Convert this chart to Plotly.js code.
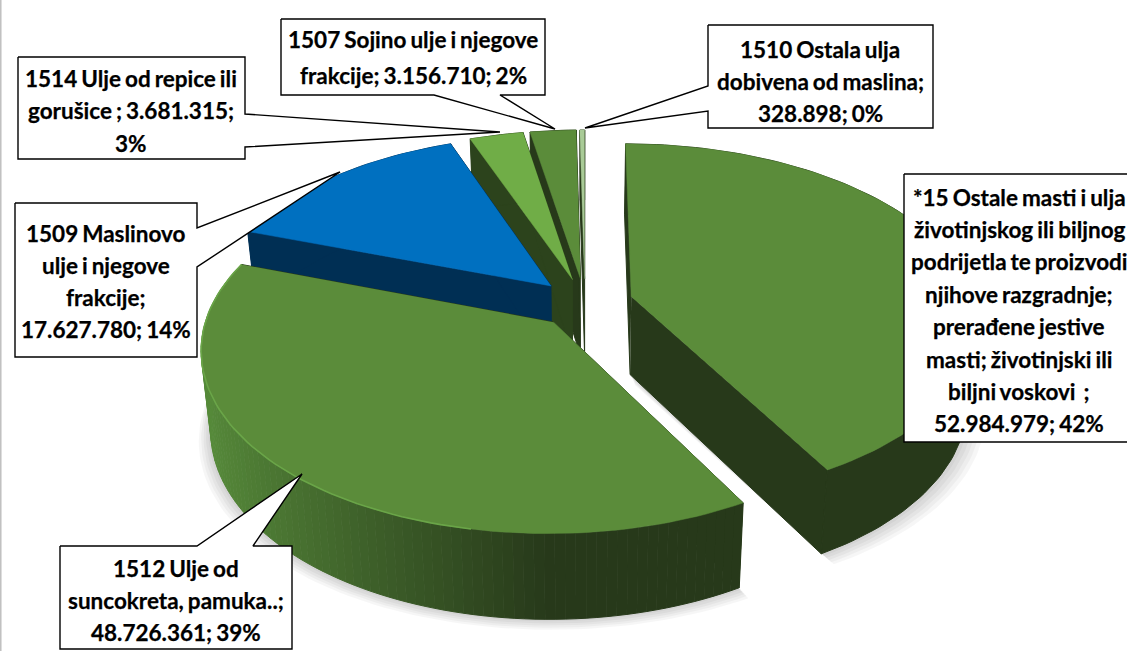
<!DOCTYPE html>
<html>
<head>
<meta charset="utf-8">
<script src="https://cdn.plot.ly/plotly-3.0.1.min.js"></script>
<style>html,body{margin:0;padding:0;background:#fff;overflow:hidden}#chart{width:1127px;height:651px}
.annotation-text{word-spacing:-1.5px;stroke:#000;stroke-width:0.25px}</style>
</head>
<body>
<div id="chart"></div>
<script>
// ---------- data ----------
const categories = ["*15 Ostale masti i ulja", "1512 Ulje od suncokreta, pamuka..", "1509 Maslinovo ulje i njegove frakcije",
                    "1514 Ulje od repice ili gorušice", "1507 Sojino ulje i njegove frakcije", "1510 Ostala ulja dobivena od maslina"];
const values = [52984979, 48726361, 17627780, 3681315, 3156710, 328898];
const topColors  = ["#5B8C3A", "#5B8C3A", "#0070C0", "#70AD47", "#5B8C3A", "#A9CB97"];
const sideColors = ["#27391A", "#27391A", "#002F54", "#2C431C", "#27391A", "#27391A"];
const labelLines = [
  ["*15 Ostale masti i ulja", "životinjskog ili biljnog", "podrijetla te proizvodi", "njihove razgradnje;", "prerađene jestive", "masti; životinjski ili", "biljni voskovi  ;", "52.984.979; 42%"],
  ["1512 Ulje od", "suncokreta, pamuka..;", "48.726.361; 39%"],
  ["1509 Maslinovo", "ulje i njegove", "frakcije;", "17.627.780; 14%"],
  ["1514 Ulje od repice ili", "gorušice ; 3.681.315;", "3%"],
  ["1507 Sojino ulje i njegove", "frakcije; 3.156.710; 2%"],
  ["1510 Ostala ulja", "dobivena od maslina;", "328.898; 0%"]
];
// ---------- label frames ----------
const boxes = [
  {l:904,r:1140,t:174,b:442,cx:1019,y0:197,dy:32.4,poly:null},
  {l:60,r:292,t:546,b:649,cx:176,y0:568,dy:32,poly:[[197,546],[302,474],[253,546]],side:"t"},
  {l:15,r:197,t:203,b:357,cx:106,y0:233,dy:32,poly:[[197,267],[340,172],[197,228]],side:"r"},
  {l:18,r:245,t:57,b:159,cx:131,y0:78,dy:32.5,poly:[[245,147],[500,132],[245,114]],side:"r"},
  {l:281,r:545,t:19,b:95,cx:413,y0:39,dy:36,poly:[[500,95],[555,129],[434,95]],side:"b"},
  {l:708,r:933,t:25,b:128,cx:820,y0:49,dy:32,poly:[[708,86],[585,128],[708,111]],side:"l"}
];
// ---------- projection of the tilted pie ----------
const PCX = 585, PCY = 303, RX = 343, RY = 176, K = 0.14, EXPLODE = 0.14, DEPTH = 78;
function top3(u, v) { const w = 1 + K * v; return [PCX + RX * u / w, PCY - RY * v / w, w]; }
function bot3(u, v) { const p = top3(u, v); return [PCX + (p[0] - PCX) * 0.975, p[1] + DEPTH + 50 * (1 - p[2])]; }
const rad = d => d * Math.PI / 180;
const total = values.reduce((a, b) => a + b, 0);
const hex = c => [1, 3, 5].map(i => parseInt(c.substr(i, 2), 16));
function mix(a, b, t) { const A = hex(a), B = hex(b); return "rgb(" + A.map((x, i) => Math.round(x + (B[i] - x) * t)).join(",") + ")"; }

function poly(pts, fill, extra) {
  return Object.assign({
    type: "scatter", mode: "lines", x: pts.map(p => p[0]), y: pts.map(p => p[1]), fill: "toself",
    fillcolor: fill, line: {color: fill, width: 1}, hoverinfo: "skip", showlegend: false
  }, extra || {});
}

const slices = []; let acc = 0;
values.forEach((val, i) => {
  const a0 = acc / total * 360, a1 = (acc + val) / total * 360; acc += val;
  const mid = rad((a0 + a1) / 2);
  const ou = EXPLODE * Math.sin(mid), ov = EXPLODE * Math.cos(mid);
  const n = Math.max(2, Math.ceil((a1 - a0) / 1.5));
  const ring = [];
  for (let j = 0; j <= n; j++) {
    const d = a0 + (a1 - a0) * j / n;
    ring.push({d, u: ou + Math.sin(rad(d)), v: ov + Math.cos(rad(d))});
  }
  slices.push({i, a0, a1, ou, ov, ring});
});

const traces = [];
// soft shadow below the two front slices
[0, 1].forEach(i => {
  const s = slices[i];
  [3, 6, 9, 12, 15].forEach(d => {
    const pts = [bot3(s.ou, s.ov)].concat(s.ring.map(r => bot3(r.u, r.v)));
    traces.push({type: "scatter", mode: "lines", x: pts.map(p => p[0] + (p[0] - PCX) * 0.008 * d / 3 + d * 0.2), y: pts.map(p => p[1] + d * 0.7),
      fill: "toself", fillcolor: "rgba(0,0,0,0.035)", line: {width: 0, color: "rgba(0,0,0,0)"}, hoverinfo: "skip", showlegend: false});
  });
});
// back to front
[5, 4, 3, 2, 0, 1].forEach(i => {
  const s = slices[i], side = sideColors[i];
  const c = [s.ou, s.ov], first = s.ring[0], last = s.ring[s.ring.length - 1];
  // radial walls
  [first, last].forEach(r => {
    traces.push(poly([top3(c[0], c[1]), top3(r.u, r.v), bot3(r.u, r.v), bot3(c[0], c[1])], side));
  });
  // outer wall, shaded by its direction
  if (i === 1) {
    for (let j = 0; j < s.ring.length - 1; j++) {
      const A = s.ring[j], B = s.ring[j + 1];
      const t = Math.max(0, Math.min(1, -Math.sin(rad((A.d + B.d) / 2)) * 1.05));
      traces.push(poly([top3(A.u, A.v), top3(B.u, B.v), bot3(B.u, B.v), bot3(A.u, A.v)], mix("#27391A", "#568A3A", t)));
    }
  } else {
    const wall = s.ring.map(r => top3(r.u, r.v)).concat(s.ring.slice().reverse().map(r => bot3(r.u, r.v)));
    traces.push(poly(wall, side));
  }
  // upper face
  const face = [top3(c[0], c[1])].concat(s.ring.map(r => top3(r.u, r.v)));
  traces.push(poly(face, topColors[i], {
    name: categories[i], hoverinfo: "name", line: {color: topColors[i], width: 0.5}
  }));
  if (i === 1) {
    const rim = s.ring.filter(r => r.d > 190).map(r => top3(r.u, r.v));
    traces.push({type: "scatter", mode: "lines", x: rim.map(p => p[0]), y: rim.map(p => p[1]),
      line: {color: "#6AA548", width: 1.6}, hoverinfo: "skip", showlegend: false});
  }
});

// label frames with their pointers
const annotations = [];
boxes.forEach((b, i) => {
  const p = b.poly || [];
  let outline;
  if (b.side === "t") outline = [[b.l, b.t]].concat(p, [[b.r, b.t], [b.r, b.b], [b.l, b.b], [b.l, b.t]]);
  else if (b.side === "r") outline = [[b.l, b.t], [b.r, b.t]].concat(p.slice().reverse(), [[b.r, b.b], [b.l, b.b], [b.l, b.t]]);
  else if (b.side === "b") outline = [[b.l, b.t], [b.r, b.t], [b.r, b.b]].concat(p, [[b.l, b.b], [b.l, b.t]]);
  else if (b.side === "l") outline = [[b.l, b.t], [b.r, b.t], [b.r, b.b], [b.l, b.b]].concat(p.slice().reverse(), [[b.l, b.t]]);
  else outline = [[b.l, b.t], [b.r, b.t], [b.r, b.b], [b.l, b.b], [b.l, b.t]];
  traces.push({type: "scatter", mode: "lines", x: outline.map(q => q[0]), y: outline.map(q => q[1]), fill: "toself",
    fillcolor: "#FFFFFF", line: {color: "#000000", width: 1.4}, hoverinfo: "skip", showlegend: false});
  labelLines[i].forEach((text, j) => {
    annotations.push({x: b.cx, y: b.y0 + j * b.dy, xref: "x", yref: "y", text: "<b>" + text + "</b>", showarrow: false,
      xanchor: "center", yanchor: "middle", font: {family: "Lato, 'Liberation Sans', sans-serif", size: 22.5, color: "#000000"}});
  });
});

Plotly.newPlot("chart", traces, {
  width: 1127, height: 651, margin: {l: 0, r: 0, t: 0, b: 0, pad: 0},
  paper_bgcolor: "#FFFFFF", plot_bgcolor: "#FFFFFF", showlegend: false,
  xaxis: {range: [0, 1127], visible: false, fixedrange: true},
  yaxis: {range: [651, 0], visible: false, fixedrange: true},
  annotations,
  shapes: [{type: "line", xref: "paper", yref: "paper", x0: 0.0007, x1: 0.0007, y0: 0, y1: 1, line: {color: "#BFBFBF", width: 1.5}}]
}, {displayModeBar: false, staticPlot: true});
</script>
</body>
</html>
